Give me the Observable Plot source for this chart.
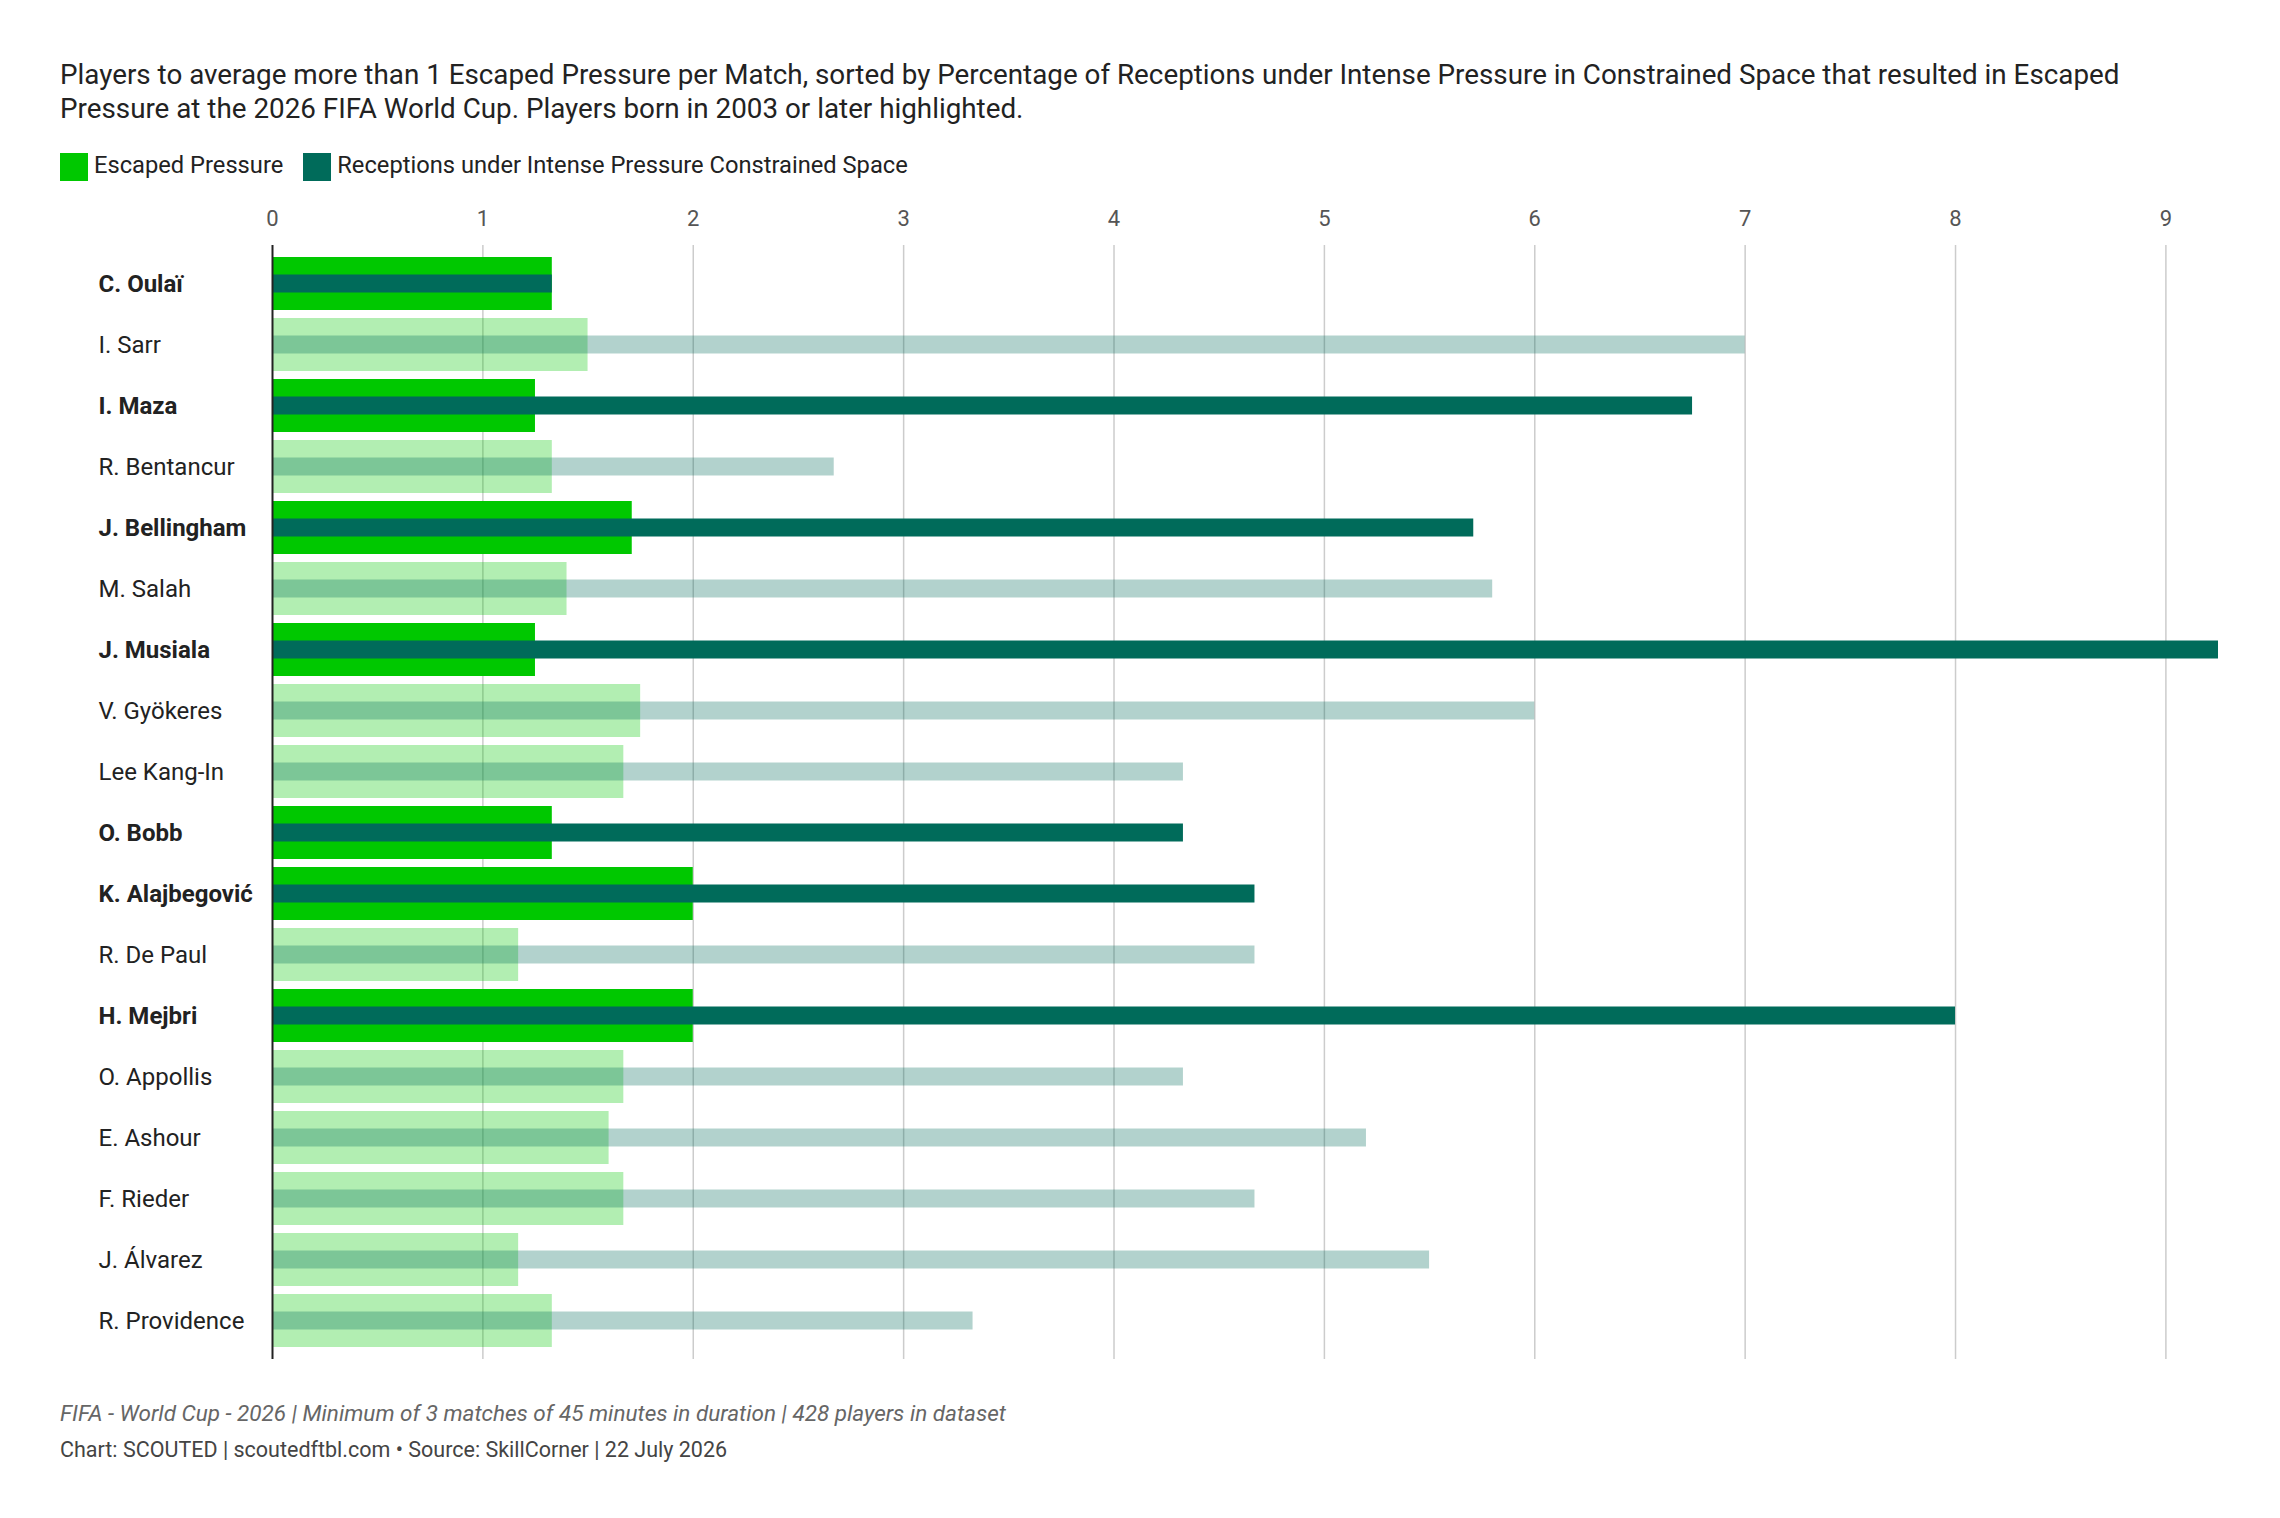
<!DOCTYPE html>
<html><head><meta charset="utf-8">
<script src="https://cdn.jsdelivr.net/npm/d3@7"></script>
<script src="https://cdn.jsdelivr.net/npm/@observablehq/plot@0.6"></script>
<style>
body{margin:0;background:#fff;font-family:Roboto,sans-serif;width:2280px}
#t{position:absolute;left:60px;top:58px;width:2170px;font-size:27.8px;line-height:34px;color:#222}
#lg{position:absolute;left:60px;top:151px;font-size:23.7px;color:#222;display:flex;gap:20px;align-items:center}
#lg span.s{display:inline-block;width:28px;height:28px;vertical-align:middle;margin-right:6px}
#c{position:absolute;left:0;top:180px}
#f1{position:absolute;left:60px;top:1400px;font-size:22.5px;font-style:italic;color:#666}
#f2{position:absolute;left:60px;top:1437px;font-size:21.5px;color:#444}
</style></head><body>
<div id="t">Players to average more than 1 Escaped Pressure per Match, sorted by Percentage of Receptions under Intense Pressure in Constrained Space that resulted in Escaped Pressure at the 2026 FIFA World Cup. Players born in 2003 or later highlighted.</div>
<div id="lg"><span><span class="s" style="background:#00c800"></span>Escaped Pressure</span><span><span class="s" style="background:#006b5a"></span>Receptions under Intense Pressure Constrained Space</span></div>
<div id="c"></div>
<div id="f1">FIFA - World Cup - 2026 | Minimum of 3 matches of 45 minutes in duration | 428 players in dataset</div>
<div id="f2">Chart: SCOUTED | scoutedftbl.com • Source: SkillCorner | 22 July 2026</div>
<script>
const players=["C. Oulaï","I. Sarr","I. Maza","R. Bentancur","J. Bellingham","M. Salah","J. Musiala","V. Gyökeres","Lee Kang-In","O. Bobb","K. Alajbegović","R. De Paul","H. Mejbri","O. Appollis","E. Ashour","F. Rieder","J. Álvarez","R. Providence"];
const escaped=[1.33,1.5,1.25,1.33,1.71,1.4,1.25,1.75,1.67,1.33,2.0,1.17,2.0,1.67,1.6,1.67,1.17,1.33];
const receptions=[1.33,7.0,6.75,2.67,5.71,5.8,9.25,6.0,4.33,4.33,4.67,4.67,8.0,4.33,5.2,4.67,5.5,3.33];
const young=[true,false,true,false,true,false,true,false,false,true,true,false,true,false,false,false,false,false];
const data=players.map((p,i)=>({p,e:escaped[i],r:receptions[i],y:young[i]}));
const chart=Plot.plot({
  width:2280,height:1189,marginLeft:272,marginRight:62,marginTop:65,marginBottom:10,
  style:{fontFamily:"Roboto,sans-serif"},
  x:{domain:[0,9.25],axis:"top",ticks:d3.range(0,10),tickSize:0,label:null,tickPadding:20},
  y:{domain:players,axis:null,paddingInner:0.13,paddingOuter:0.065},
  marks:[
    Plot.ruleX(d3.range(1,10),{stroke:"#ccc",strokeWidth:1.5}),
    Plot.barX(data,{y:"p",x:"e",fill:"#00c800",fillOpacity:d=>d.y?1:0.3}),
    Plot.barX(data,{y:"p",x:"r",fill:"#006b5a",fillOpacity:d=>d.y?1:0.3,insetTop:17.5,insetBottom:17.5}),
    Plot.ruleX([0],{stroke:"#222",strokeWidth:2}),
    Plot.text(data.filter(d=>d.y),{y:"p",x:0,text:"p",textAnchor:"start",dx:-174,fontSize:24,fill:"#222",fontWeight:"bold"}),
    Plot.text(data.filter(d=>!d.y),{y:"p",x:0,text:"p",textAnchor:"start",dx:-174,fontSize:24,fill:"#222"})
  ]
});
chart.querySelectorAll("[aria-label='x-axis tick label'] text").forEach(t=>{t.style.fontSize="22px";t.setAttribute("fill","#555")});
document.getElementById("c").append(chart);
</script></body></html>
